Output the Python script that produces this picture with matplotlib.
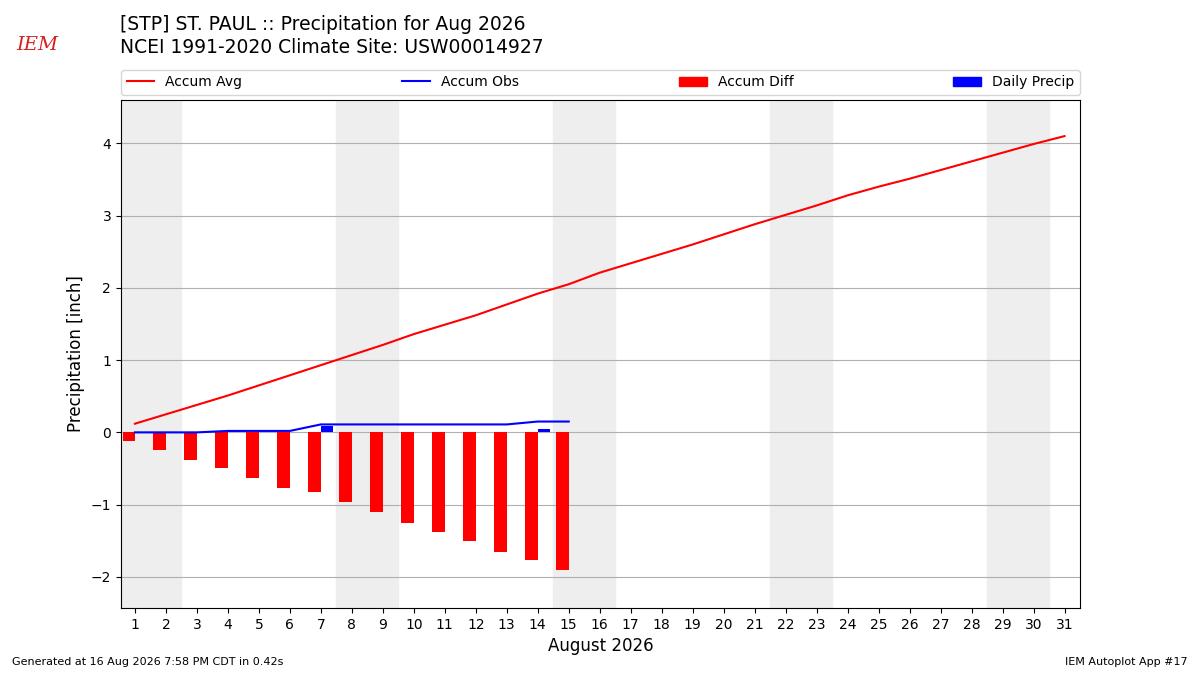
import numpy as np
import matplotlib.pyplot as plt
from matplotlib.patches import Patch
from matplotlib.lines import Line2D

days = list(range(1, 32))
accum_avg = [0.12, 0.25, 0.38, 0.51, 0.65, 0.79, 0.93, 1.07, 1.21, 1.36,
             1.49, 1.62, 1.77, 1.92, 2.05, 2.21, 2.34, 2.47, 2.60, 2.74,
             2.88, 3.01, 3.14, 3.28, 3.40, 3.51, 3.63, 3.75, 3.87, 3.99, 4.10]
obs_days = list(range(1, 16))
accum_obs = [0.0, 0.0, 0.0, 0.02, 0.02, 0.02, 0.11, 0.11, 0.11, 0.11,
             0.11, 0.11, 0.11, 0.15, 0.15]
daily_precip = [0.0, 0.0, 0.0, 0.02, 0.0, 0.0, 0.09, 0.0, 0.0, 0.0,
                0.0, 0.0, 0.0, 0.04, 0.006]
weekend_starts = [1, 8, 15, 22, 29]

accum_diff = np.array(accum_obs) - np.array(accum_avg[:len(obs_days)])

fig = plt.figure(figsize=(12, 6.75), dpi=100)
ax = fig.add_axes([0.1008, 0.0993, 0.7992, 0.7526])

for d in weekend_starts:
    ax.axvspan(d - 0.5, d + 1.5, color='#eeeeee', zorder=0)

ax.plot(days, accum_avg, color='r', lw=1.5, zorder=3)
ax.plot(obs_days, accum_obs, color='b', lw=1.5, zorder=3)
ax.bar(obs_days, accum_diff, width=-0.4, align='edge', color='r', zorder=2)
ax.bar(obs_days, daily_precip, width=0.4, align='edge', color='b', zorder=2)

ax.set_xlim(0.55, 31.5)
ax.set_ylim(-2.43, 4.6)
ax.set_xticks(days)
ax.set_yticks(range(-2, 5))
ax.yaxis.grid(True, color='#b0b0b0', lw=0.8)
ax.set_axisbelow(True)
ax.set_ylabel('Precipitation [inch]', fontsize=12)
ax.set_xlabel('August 2026', fontsize=12)

handles = [Line2D([], [], color='r', lw=1.5), Line2D([], [], color='b', lw=1.5),
           Patch(color='r'), Patch(color='b')]
labels = ['Accum Avg', 'Accum Obs', 'Accum Diff', 'Daily Precip']
ax.legend(handles, labels, ncol=4, mode='expand', loc='lower left',
          bbox_to_anchor=(0, 1.01, 1, 0.05), borderaxespad=0, fontsize=10)

fig.text(0.1, 0.963, '[STP] ST. PAUL :: Precipitation for Aug 2026', fontsize=13.5, va='center')
fig.text(0.1, 0.930, 'NCEI 1991-2020 Climate Site: USW00014927', fontsize=13.5, va='center')
fig.text(0.031, 0.933, 'IEM', fontsize=14, color='#d62020', family='serif',
         style='italic', va='center', ha='center')
fig.text(0.01, 0.015, 'Generated at 16 Aug 2026 7:58 PM CDT in 0.42s', fontsize=8)
fig.text(0.99, 0.015, 'IEM Autoplot App #17', fontsize=8, ha='right')

fig.savefig('out.png')
